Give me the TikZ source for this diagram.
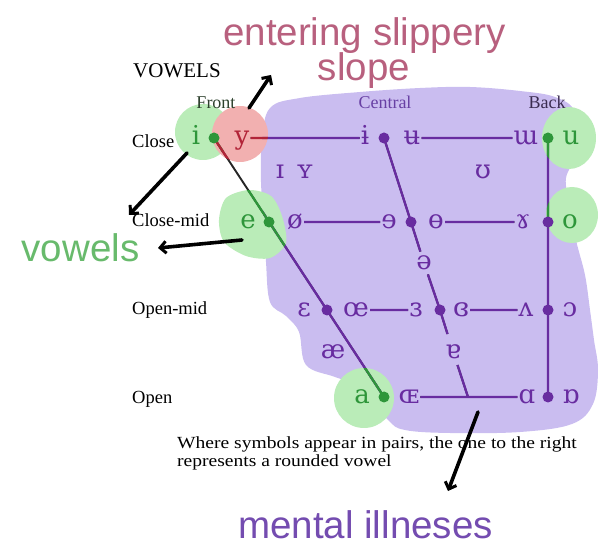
\documentclass[tikz,border=0pt]{standalone}
\usepackage{fontspec}
\setmainfont{Liberation Serif}
\newfontfamily\ipafont{DejaVu Serif}
\newfontfamily\handfont{Liberation Sans}
\newfontfamily\fnfont[FakeStretch=1.15]{Liberation Serif}
\usetikzlibrary{arrows.meta}
\pgfdeclarelayer{blobs}
\pgfdeclarelayer{lines}
\pgfsetlayers{blobs,lines,main}
\definecolor{blobpurple}{RGB}{202,189,240}
\definecolor{blobgreen}{RGB}{186,236,184}
\definecolor{blobpink}{RGB}{242,176,176}
\definecolor{ipapurple}{RGB}{104,44,160}
\definecolor{ipagreen}{RGB}{46,150,58}
\definecolor{ipared}{RGB}{178,36,56}
\definecolor{slopecol}{RGB}{184,96,126}
\definecolor{vowelcol}{RGB}{104,186,108}
\definecolor{mentalcol}{RGB}{116,76,176}
\definecolor{frontcol}{RGB}{44,64,44}
\definecolor{backcol}{RGB}{58,44,80}
\definecolor{centralcol}{RGB}{104,64,164}
\begin{document}
\begin{tikzpicture}[x=1pt,y=-1pt,
  ipa/.style={font=\ipafont\fontsize{26}{26}\selectfont, inner sep=1pt, text height=17pt, text depth=3.5pt, text=#1},
  ipa/.default=ipapurple,
  vdot/.style={circle, fill=#1, minimum size=11pt, inner sep=0pt},
  vdot/.default=ipapurple,
  rowlab/.style={font=\fontsize{18.5}{18.5}\selectfont, anchor=base west, inner sep=0pt},
  collab/.style={font=\fontsize{18}{18}\selectfont, anchor=base, inner sep=0pt},
  hand/.style={font=\handfont\fontsize{38.5}{38.5}\selectfont, anchor=base, inner sep=0pt},
  fnote/.style={font=\fnfont\fontsize{17}{17}\selectfont, anchor=base west, inner sep=0pt},
  chartline/.style={line width=1.9pt},
  harrow/.style={line width=3.6pt, black, line cap=round, -{Straight Barb[length=6pt,width=12pt,line width=3pt]}}
]
\useasboundingbox (0,0) rectangle (614,548);
\def\pblob{plot[smooth cycle, tension=0.6] coordinates {(270,108) (300,98) (360,92) (420,88) (470,87) (520,91) (555,97) (575,112) (578,150) (566,178) (570,205) (576,240) (585,275) (590,310) (594,340) (598,370) (593,404) (572,424) (520,432) (450,433) (405,430) (388,420) (360,387) (335,377) (306,365) (299,332) (286,316) (270,302) (266,262) (264,222) (261,182) (262,140)}}
\def\gblobs{(203,132) circle[radius=28]
  plot[smooth cycle] coordinates {(226,198) (249,190) (271,196) (282,216) (286,243) (270,258) (246,256) (224,242) (219,220)}
  (569,138) ellipse[x radius=27, y radius=31]
  (572,215) ellipse[x radius=26, y radius=28]
  (364,398) circle[radius=30]}
\def\kblob{(240,134) circle[radius=28]}

% headings and labels
\node[font=\fontsize{21}{21}\selectfont, anchor=base west, inner sep=0pt] (title) at (133,78) {VOWELS};
\node[collab, text=frontcol] (front) at (216,109) {Front};
\node[collab, text=centralcol] (central) at (385,109) {Central};
\node[collab, text=backcol] (back) at (547,109) {Back};
\node[rowlab] (lclose) at (132,148) {Close};
\node[rowlab] (lclosemid) at (132,227) {Close-mid};
\node[rowlab] (lopenmid) at (132,315) {Open-mid};
\node[rowlab] (lopen) at (132,403) {Open};

% close
\node[ipa=ipagreen] (ni) at (196,138) {i};
\node[ipa=ipared] (ny) at (242,138) {y};
\node[ipa] (nbari) at (365,138) {ɨ};
\node[ipa] (nbaru) at (412,138) {ʉ};
\node[ipa] (nturnm) at (526,138) {ɯ};
\node[ipa=ipagreen] (nu) at (571,138) {u};
\node[vdot=ipagreen] (di) at (214,138) {};
\node[vdot] (dbari) at (384,138) {};
\node[vdot=ipagreen] (du) at (548,138) {};
% near-close
\node[ipa] (nsmalli) at (280,172) {ɪ};
\node[ipa] (nsmally) at (305,172) {ʏ};
\node[ipa] (nupsilon) at (483,172) {ʊ};
% close-mid
\node[ipa=ipagreen] (ne) at (248,222) {e};
\node[ipa] (noslash) at (295,222) {ø};
\node[ipa] (nreve) at (389,222) {ɘ};
\node[ipa] (nbaro) at (436,222) {ɵ};
\node[ipa] (nramshorn) at (523,222) {ɤ};
\node[ipa=ipagreen] (no) at (570,222) {o};
\node[vdot=ipagreen] (de) at (269,222) {};
\node[vdot] (dreve) at (411,222) {};
\node[vdot] (do) at (548,222) {};
% mid
\node[ipa] (nschwa) at (424,263) {ə};
% open-mid
\node[ipa] (nepsilon) at (304,310) {ɛ};
\node[ipa] (noe) at (356,310) {œ};
\node[ipa] (nrevepsilon) at (416,310) {ɜ};
\node[ipa] (nclosedrev) at (461,310) {ɞ};
\node[ipa] (nturnv) at (526,310) {ʌ};
\node[ipa] (nopeno) at (570,310) {ɔ};
\node[vdot] (depsilon) at (327,310) {};
\node[vdot] (drevepsilon) at (440,310) {};
\node[vdot] (dturnv) at (548,310) {};
% near-open
\node[ipa] (nae) at (333,352) {æ};
\node[ipa] (nturna) at (453,352) {ɐ};
% open
\node[ipa=ipagreen] (na) at (362,397) {a};
\node[ipa] (noeopen) at (409,397) {ɶ};
\node[ipa] (nscripta) at (527,397) {ɑ};
\node[ipa] (nturnscripta) at (571,397) {ɒ};
\node[vdot=ipagreen] (da) at (384,397) {};
\node[vdot] (dscripta) at (548,397) {};
\coordinate (tA) at (447.5,334);
\coordinate (tB) at (457.5,365);
\coordinate (jc) at (468,397);

\def\chartlines{(ny) -- (nbari) (nbaru) -- (nturnm)
  (noslash) -- (nreve) (nbaro) -- (nramshorn)
  (noe) -- (nrevepsilon) (nclosedrev) -- (nturnv)
  (noeopen) -- (nscripta)
  (di.center) -- (da.center)
  (dbari.center) -- (dreve.center) -- (nschwa)
  (nschwa) -- (drevepsilon.center) -- (tA)
  (tB) -- (jc)
  (du.center) -- (dscripta.center)}

\begin{pgfonlayer}{blobs}
  \fill[blobpurple] \pblob;
  \fill[blobgreen] \gblobs;
  \fill[blobpink] \kblob;
\end{pgfonlayer}

\begin{pgfonlayer}{lines}
  \draw[chartline, black!85] \chartlines;
  \begin{scope}
    \clip \pblob;
    \draw[chartline, ipapurple, line width=2.3pt] \chartlines;
  \end{scope}
  \begin{scope}
    \clip \gblobs;
    \draw[chartline, ipagreen, line width=2.3pt] \chartlines;
  \end{scope}
  \begin{scope}
    \clip \kblob;
    \draw[chartline, ipared, line width=2.3pt] \chartlines;
  \end{scope}
\end{pgfonlayer}

% footnote
\node[fnote] (fn1) at (177,448.5) {Where symbols appear in pairs, the one to the right};
\node[fnote] (fn2) at (177,466) {represents a rounded vowel};

% annotations
\node[hand, text=slopecol] (slope1) at (364.5,46) {entering slippery};
\node[hand, text=slopecol] (slope2) at (364,81) {slope};
\node[hand, text=vowelcol] (vowels) at (80.5,262) {vowels};
\node[hand, text=mentalcol] (mental) at (365.5,538) {mental illneses};

\coordinate (a1s) at (249,108);
\coordinate (a1e) at (271,75);
\coordinate (a2s) at (187,153);
\coordinate (a2e) at (129,215);
\coordinate (a3s) at (242,240);
\coordinate (a3e) at (158,248);
\coordinate (a4s) at (478,412);
\coordinate (a4e) at (448,491);
\draw[harrow] (a1s) -- (a1e);
\draw[harrow] (a2s) -- (a2e);
\draw[harrow] (a3s) -- (a3e);
\draw[harrow] (a4s) -- (a4e);
\end{tikzpicture}
\end{document}
